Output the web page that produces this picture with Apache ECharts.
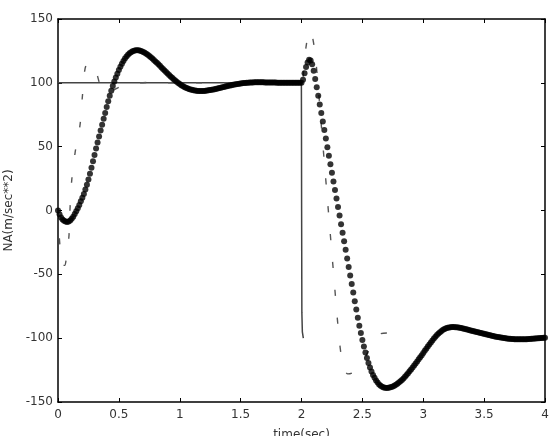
<!DOCTYPE html>
<html>
<head>
<meta charset="utf-8">
<script src="https://cdn.jsdelivr.net/npm/echarts@6/dist/echarts.min.js"></script>
<style>
html,body{margin:0;padding:0;background:#fff;}
#c{width:554px;height:436px;}
</style>
</head>
<body>
<div id="c"></div>
<script>
// ---- tick labels ----
const xTickLabels = ['0','0.5','1','1.5','2','2.5','3','3.5','4'];
const yTickLabels = ['-150','-100','-50','0','50','100','150'];

// ---- solid line (command) ----
const cmdTime  = [0, 1.999, 2.0, 2.001, 2.003, 2.007, 2.015];
const cmdValue = [100, 100, 60, 0, -80, -95, -100];

// ---- dashed line ----
const dashTime = [0, 0.01, 0.025, 0.04, 0.055, 0.07, 0.09, 0.099, 0.113, 0.14, 0.181, 0.2, 0.222, 0.25, 0.28, 0.31, 0.34, 0.37, 0.4, 0.45, 0.5, 0.575, 0.65, 0.78, 0.9, 1.0, 2.0,
                  2.02, 2.04, 2.06, 2.072, 2.09, 2.11, 2.13, 2.15, 2.17, 2.19, 2.21, 2.23, 2.25, 2.27, 2.29, 2.31, 2.33, 2.35, 2.38, 2.42, 2.49, 2.55, 2.6, 2.65, 2.72, 2.79, 2.85];
const dashValue = [0, -20, -36, -43, -43, -36, -20, 2, 24, 45, 67, 89, 111, 116, 115, 110, 100, 93, 92, 94, 96.5, 98.5, 99.8, 100.3, 100.1, 100, 100,
                  115, 130, 139, 141, 136, 124, 105, 82, 58, 35, 12, -11, -34, -57, -80, -101, -116, -124, -128, -127, -120, -110, -100, -96.5, -96, -98, -99.5];

// ---- dotted (sampled) series, one value every dotStep seconds from 0 ----
const dotStep = 0.0125;
const dotValue = [
  0, -3, -5.5, -7, -8, -8.7, -9, -8.7,
  -7.8, -6.5, -4.8, -2.8, -0.6, 1.8, 4.4, 7.2,
  10, 13, 16.5, 20.2, 24.3, 28.8, 33.5, 38.5,
  43.5, 48.5, 53.3, 58, 62.6, 67.2, 71.8, 76.3,
  81, 85.5, 89.8, 93.8, 97.5, 101, 104.2, 107.2,
  110, 112.6, 115, 117.1, 119, 120.6, 122, 123.1,
  124, 124.7, 125.2, 125.5, 125.6, 125.5, 125.2, 124.8,
  124.2, 123.5, 122.7, 121.9, 121, 120, 119, 117.9,
  116.8, 115.7, 114.5, 113.3, 112.1, 110.9, 109.7, 108.5,
  107.3, 106.1, 105, 103.9, 102.8, 101.8, 100.8, 99.9,
  99, 98.2, 97.5, 96.8, 96.2, 95.7, 95.2, 94.8,
  94.5, 94.2, 94, 93.8, 93.7, 93.6, 93.6, 93.6,
  93.7, 93.8, 93.9, 94.1, 94.3, 94.5, 94.7, 95,
  95.3, 95.6, 95.9, 96.2, 96.5, 96.8, 97.1, 97.4,
  97.7, 98, 98.2, 98.5, 98.7, 98.9, 99.1, 99.3,
  99.5, 99.6, 99.8, 99.9, 100, 100.1, 100.2, 100.3,
  100.3, 100.4, 100.4, 100.4, 100.4, 100.4, 100.4, 100.4,
  100.3, 100.3, 100.3, 100.3, 100.2, 100.2, 100.2, 100.2,
  100.1, 100.1, 100.1, 100.1, 100.1, 100.1, 100, 100,
  100, 100, 100, 100, 100, 100, 100, 100,
  100, 102.5, 107.5, 112.5, 116, 118, 117.5, 114.5,
  109.5, 103, 96.5, 89.8, 83.1, 76.4, 69.7, 63,
  56.3, 49.6, 42.9, 36.2, 29.5, 22.8, 16.1, 9.4,
  2.7, -4, -10.7, -17.4, -24.1, -30.8, -37.5, -44.2,
  -50.9, -57.6, -64.3, -71, -77.6, -84, -90.2, -96,
  -101.5, -106.6, -111.3, -115.6, -119.5, -123, -126.1, -128.8,
  -131.1, -133.1, -134.8, -136.2, -137.3, -138.1, -138.6, -138.9,
  -139, -138.9, -138.7, -138.3, -137.8, -137.2, -136.5, -135.7,
  -134.8, -133.8, -132.7, -131.5, -130.2, -128.9, -127.5, -126,
  -124.5, -123, -121.4, -119.8, -118.2, -116.6, -115, -113.3,
  -111.6, -109.9, -108.2, -106.5, -104.9, -103.3, -101.8, -100.3,
  -98.9, -97.6, -96.4, -95.3, -94.3, -93.5, -92.8, -92.3,
  -91.9, -91.6, -91.4, -91.3, -91.3, -91.4, -91.5, -91.7,
  -91.9, -92.1, -92.4, -92.7, -93, -93.3, -93.6, -93.9,
  -94.2, -94.5, -94.8, -95.1, -95.4, -95.7, -96, -96.3,
  -96.6, -96.9, -97.2, -97.5, -97.8, -98.1, -98.4, -98.6,
  -98.9, -99.1, -99.3, -99.5, -99.7, -99.9, -100.1, -100.2,
  -100.4, -100.5, -100.6, -100.7, -100.8, -100.8, -100.9, -100.9,
  -100.9, -100.9, -100.9, -100.8, -100.8, -100.7, -100.6, -100.5,
  -100.4, -100.3, -100.2, -100.1, -100, -99.9, -99.8, -99.7,
  -99.6
];

const FONT = '"DejaVu Sans", sans-serif';
const xLabelFor = v => { const i = Math.round(v / 0.5); return xTickLabels[i] !== undefined ? xTickLabels[i] : ''; };
const yLabelFor = v => { const i = Math.round((v + 150) / 50); return yTickLabels[i] !== undefined ? yTickLabels[i] : ''; };

const zip = (a, b) => a.map((t, i) => [t, b[i]]);
const dotData = dotValue.map((v, i) => [i * dotStep, v]);

const lineAxis = { show: true, onZero: false, lineStyle: { color: '#000', width: 1.5 } };
const tickIn = { show: true, inside: true, length: 4, lineStyle: { color: '#000', width: 1 } };

const chart = echarts.init(document.getElementById('c'));
chart.setOption({
  animation: false,
  backgroundColor: '#fff',
  grid: { left: 58, right: 9, top: 19, bottom: 34, containLabel: false, outerBoundsMode: 'none' },
  xAxis: [
    {
      type: 'value', position: 'bottom', min: 0, max: 4, interval: 0.5,
      axisLine: lineAxis, axisTick: tickIn, splitLine: { show: false },
      axisLabel: { color: '#333', fontSize: 12, fontFamily: FONT, margin: 7, formatter: xLabelFor },
      name: 'time(sec)', nameLocation: 'middle', nameGap: 27,
      nameTextStyle: { color: '#333', fontSize: 12, fontFamily: FONT }
    },
    {
      type: 'value', position: 'top', min: 0, max: 4, interval: 0.5,
      axisLine: lineAxis, axisTick: tickIn, splitLine: { show: false },
      axisLabel: { show: false }
    }
  ],
  yAxis: [
    {
      type: 'value', position: 'left', min: -150, max: 150, interval: 50,
      axisLine: lineAxis, axisTick: tickIn, splitLine: { show: false },
      axisLabel: { color: '#333', fontSize: 12, fontFamily: FONT, margin: 5, formatter: yLabelFor },
      name: 'NA(m/sec**2)', nameLocation: 'middle', nameGap: 42, nameRotate: 90,
      nameTextStyle: { color: '#333', fontSize: 12, fontFamily: FONT }
    },
    {
      type: 'value', position: 'right', min: -150, max: 150, interval: 50,
      axisLine: lineAxis, axisTick: tickIn, splitLine: { show: false },
      axisLabel: { show: false }
    }
  ],
  series: [
    {
      type: 'line', xAxisIndex: 0, yAxisIndex: 0, data: zip(cmdTime, cmdValue),
      showSymbol: false, silent: true, z: 2,
      lineStyle: { color: '#444', width: 1.5 }
    },
    {
      type: 'line', xAxisIndex: 0, yAxisIndex: 0, data: zip(dashTime, dashValue),
      showSymbol: false, silent: true, z: 3, smooth: 0.3,
      lineStyle: { color: '#555', width: 1.4, type: [6, 22] }
    },
    {
      type: 'scatter', xAxisIndex: 0, yAxisIndex: 0, data: dotData,
      symbol: 'circle', symbolSize: 6, silent: true, z: 4,
      itemStyle: { color: '#000' }
    }
  ]
});
</script>
</body>
</html>
